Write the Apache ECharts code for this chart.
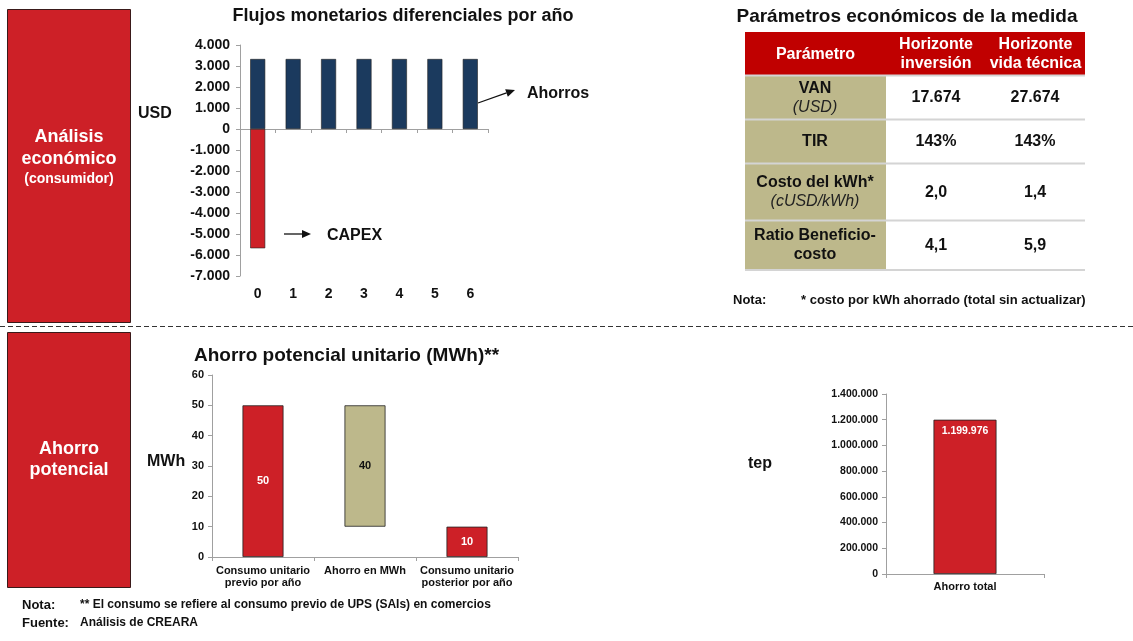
<!DOCTYPE html>
<html>
<head>
<meta charset="utf-8">
<script src="https://cdn.jsdelivr.net/npm/echarts@6/dist/echarts.min.js"></script>
<style>html,body{margin:0;padding:0;background:#fff}#c{width:1133px;height:641px}</style>
</head>
<body>
<div id="c"></div>
<script>
// ---------- data ----------
const years = ['0', '1', '2', '3', '4', '5', '6'];
const ahorros = [3333, 3333, 3333, 3333, 3333, 3333, 3333];
const capex = [-5680, null, null, null, null, null, null];
const usdTicks = { min: -7000, max: 4000, interval: 1000 };

const wfCats = ['Consumo unitario\nprevio por año', 'Ahorro en MWh', 'Consumo unitario\nposterior por año'];
const wfBase = [0, 10, 0];
const wfValues = [50, 40, 10];
const mwhTicks = { min: 0, max: 60, interval: 10 };

const totalCats = ['Ahorro total'];
const totalValues = [1199976];
const tepTicks = { min: 0, max: 1400000, interval: 200000 };

const tableHeaders = ['Parámetro', 'Horizonte\ninversión', 'Horizonte\nvida técnica'];
const tableParams = ['VAN', 'TIR', 'Costo del kWh*', 'Ratio Beneficio-\ncosto'];
const tableUnits = ['(USD)', '', '(cUSD/kWh)', ''];
const tableInversion = ['17.674', '143%', '2,0', '4,1'];
const tableVida = ['27.674', '143%', '1,4', '5,9'];

// ---------- style ----------
const FONT = 'Liberation Sans, Arial, sans-serif';
const RED = '#CD2027';
const NAVY = '#1B3A5E';
const KHAKI = '#BDB88B';
const HEAD = '#C00000';
const AXIS = '#A0A0A0';

function fmt(n) {
  const s = String(Math.abs(Math.round(n))).replace(/\B(?=(\d{3})+(?!\d))/g, '.');
  return (n < 0 ? '-' : '') + s;
}

const chart = echarts.init(document.getElementById('c'), null, { renderer: 'canvas' });

// table graphics
const tableEls = [];
const colX = [745, 886, 986], colW = [141, 100, 99];
const headY = 32, headH = 43;
const rowY = [76, 120, 164, 221], rowH = [44, 44, 57, 49];
tableEls.push({ type: 'rect', shape: { x: 745, y: headY, width: 340, height: headH }, style: { fill: HEAD } });
tableHeaders.forEach((h, i) => {
  tableEls.push({ type: 'text', x: colX[i] + colW[i] / 2, y: headY + headH / 2 + 1,
    style: { text: h, fill: '#fff', font: 'bold 16px ' + FONT, align: 'center', verticalAlign: 'middle', lineHeight: 19 } });
});
tableParams.forEach((p, r) => {
  tableEls.push({ type: 'rect', shape: { x: 745, y: rowY[r], width: 141, height: rowH[r] }, style: { fill: KHAKI } });
  const t = tableUnits[r] ? '{b|' + p + '}\n{i|' + tableUnits[r] + '}' : p.split('\n').map(s => '{b|' + s + '}').join('\n');
  tableEls.push({ type: 'text', x: 815, y: rowY[r] + rowH[r] / 2,
    style: { text: t, align: 'center', verticalAlign: 'middle',
      rich: { b: { font: 'bold 16px ' + FONT, fill: '#111', lineHeight: 19 }, i: { font: 'italic 16px ' + FONT, fill: '#222', lineHeight: 19 } } } });
  tableEls.push({ type: 'text', x: 936, y: rowY[r] + rowH[r] / 2,
    style: { text: tableInversion[r], fill: '#111', font: 'bold 16px ' + FONT, align: 'center', verticalAlign: 'middle' } });
  tableEls.push({ type: 'text', x: 1035, y: rowY[r] + rowH[r] / 2,
    style: { text: tableVida[r], fill: '#111', font: 'bold 16px ' + FONT, align: 'center', verticalAlign: 'middle' } });
});
[75.5, 119.5, 163.5, 220.5, 270].forEach(y => {
  tableEls.push({ type: 'line', shape: { x1: 745, y1: y, x2: 1085, y2: y }, style: { stroke: '#D4D4D4', lineWidth: 2 } });
});

function arrow(x1, y1, x2, y2) {
  const a = Math.atan2(y2 - y1, x2 - x1), L = 9, W = 4;
  const bx = x2 - L * Math.cos(a), by = y2 - L * Math.sin(a);
  return [
    { type: 'line', shape: { x1, y1, x2: bx, y2: by }, style: { stroke: '#111', lineWidth: 1.3 } },
    { type: 'polygon', shape: { points: [[x2, y2], [bx + W * Math.sin(a), by - W * Math.cos(a)], [bx - W * Math.sin(a), by + W * Math.cos(a)]] }, style: { fill: '#111' } }
  ];
}

const txt = (x, y, text, font, opts) => Object.assign({ type: 'text', x, y,
  style: Object.assign({ text, font, fill: '#111', align: 'left', verticalAlign: 'middle' }, opts || {}) });

const graphics = [
  // side boxes
  { type: 'rect', shape: { x: 7.5, y: 9.5, width: 123, height: 313 }, style: { fill: RED, stroke: '#3a1a1a', lineWidth: 1 } },
  { type: 'text', x: 69, y: 157, style: { text: '{a|Análisis}\n{a|económico}\n{s|(consumidor)}', align: 'center', verticalAlign: 'middle',
      rich: { a: { font: 'bold 18px ' + FONT, fill: '#fff', lineHeight: 22 }, s: { font: 'bold 14px ' + FONT, fill: '#fff', lineHeight: 18 } } } },
  { type: 'rect', shape: { x: 7.5, y: 332.5, width: 123, height: 255 }, style: { fill: RED, stroke: '#3a1a1a', lineWidth: 1 } },
  { type: 'text', x: 69, y: 460, style: { text: 'Ahorro\npotencial', font: 'bold 18px ' + FONT, fill: '#fff', align: 'center', verticalAlign: 'middle', lineHeight: 21 } },
  // dashed separator
  { type: 'line', shape: { x1: 0, y1: 326.5, x2: 1133, y2: 326.5 }, style: { stroke: '#333', lineWidth: 1, lineDash: [5, 3] } },
  // axis unit labels
  txt(138, 114, 'USD', 'bold 16px ' + FONT),
  txt(147, 462, 'MWh', 'bold 16px ' + FONT),
  txt(748, 464, 'tep', 'bold 16px ' + FONT),
  // annotations
  ...arrow(478, 103, 515, 90),
  txt(527, 94, 'Ahorros', 'bold 16px ' + FONT),
  ...arrow(284, 234, 311, 234),
  txt(327, 236, 'CAPEX', 'bold 16px ' + FONT),
  // notes
  txt(733, 300, 'Nota:', 'bold 13px ' + FONT),
  txt(801, 300, '* costo por kWh ahorrado (total sin actualizar)', 'bold 13px ' + FONT),
  txt(22, 605, 'Nota:', 'bold 13px ' + FONT),
  txt(80, 605, '** El consumo se refiere al consumo previo de UPS (SAIs) en comercios', 'bold 12px ' + FONT),
  txt(22, 623, 'Fuente:', 'bold 13px ' + FONT),
  txt(80, 623, 'Análisis de CREARA', 'bold 12px ' + FONT),
  ...tableEls
];

const yAxisBase = (extra) => Object.assign({
  type: 'value',
  axisLine: { show: true, lineStyle: { color: AXIS } },
  axisTick: { show: true, length: 4, lineStyle: { color: AXIS } },
  splitLine: { show: false }
}, extra);

const option = {
  animation: false,
  backgroundColor: '#fff',
  title: [
    { text: 'Flujos monetarios diferenciales por año', left: 398, top: 2, textAlign: 'center',
      textStyle: { fontFamily: FONT, fontWeight: 'bold', fontSize: 18, color: '#111' } },
    { text: 'Parámetros económicos de la medida', left: 902, top: 2, textAlign: 'center',
      textStyle: { fontFamily: FONT, fontWeight: 'bold', fontSize: 19, color: '#111' } },
    { text: 'Ahorro potencial unitario (MWh)**', left: 189, top: 341,
      textStyle: { fontFamily: FONT, fontWeight: 'bold', fontSize: 19, color: '#111' } }
  ],
  grid: [
    { left: 240, top: 45, width: 248, height: 231 },
    { left: 212, top: 375, width: 306, height: 182 },
    { left: 886, top: 394, width: 158, height: 180 }
  ],
  xAxis: [
    { type: 'category', gridIndex: 0, data: years,
      axisLine: { onZero: true, lineStyle: { color: AXIS } },
      axisTick: { show: true, length: 4, lineStyle: { color: AXIS } },
      axisLabel: { show: false } },
    { type: 'category', gridIndex: 0, data: years, position: 'bottom',
      axisLine: { show: false, onZero: false }, axisTick: { show: false },
      axisLabel: { color: '#111', fontWeight: 'bold', fontSize: 14, fontFamily: FONT, margin: 11 } },
    { type: 'category', gridIndex: 1, data: wfCats,
      axisLine: { lineStyle: { color: AXIS } },
      axisTick: { show: true, length: 4, lineStyle: { color: AXIS } },
      axisLabel: { color: '#111', fontWeight: 'bold', fontSize: 11, fontFamily: FONT, margin: 8, lineHeight: 12, interval: 0 } },
    { type: 'category', gridIndex: 2, data: totalCats,
      axisLine: { lineStyle: { color: AXIS } },
      axisTick: { show: true, length: 4, lineStyle: { color: AXIS } },
      axisLabel: { color: '#111', fontWeight: 'bold', fontSize: 11, fontFamily: FONT, margin: 7 } }
  ],
  yAxis: [
    yAxisBase({ gridIndex: 0, min: usdTicks.min, max: usdTicks.max, interval: usdTicks.interval,
      axisLabel: { color: '#111', fontWeight: 'bold', fontSize: 14, fontFamily: FONT, margin: 10, formatter: v => fmt(v) } }),
    yAxisBase({ gridIndex: 1, min: mwhTicks.min, max: mwhTicks.max, interval: mwhTicks.interval,
      axisLabel: { color: '#111', fontWeight: 'bold', fontSize: 11, fontFamily: FONT, margin: 8, formatter: v => fmt(v) } }),
    yAxisBase({ gridIndex: 2, min: tepTicks.min, max: tepTicks.max, interval: tepTicks.interval,
      axisLabel: { color: '#111', fontWeight: 'bold', fontSize: 10.5, fontFamily: FONT, margin: 8, formatter: v => fmt(v) } })
  ],
  series: [
    { name: 'Ahorros', type: 'bar', xAxisIndex: 0, yAxisIndex: 0, stack: 'flujo', data: ahorros, barWidth: 15,
      itemStyle: { color: NAVY, borderColor: '#222', borderWidth: 0.6 } },
    { name: 'CAPEX', type: 'bar', xAxisIndex: 0, yAxisIndex: 0, stack: 'flujo', data: capex, barWidth: 15,
      itemStyle: { color: RED, borderColor: '#222', borderWidth: 0.6 } },
    { name: 'base', type: 'bar', xAxisIndex: 2, yAxisIndex: 1, stack: 'wf', data: wfBase, barWidth: 41,
      itemStyle: { color: 'transparent' }, silent: true },
    { name: 'MWh', type: 'bar', xAxisIndex: 2, yAxisIndex: 1, stack: 'wf', barWidth: 41,
      data: wfValues.map((v, i) => ({ value: v, itemStyle: { color: i === 1 ? KHAKI : RED },
        label: { color: i === 1 ? '#111' : '#fff' } })),
      itemStyle: { borderColor: '#222', borderWidth: 0.8 },
      label: { show: true, position: 'inside', fontWeight: 'bold', fontSize: 11, fontFamily: FONT } },
    { name: 'tep', type: 'bar', xAxisIndex: 3, yAxisIndex: 2, data: totalValues, barWidth: 63,
      itemStyle: { color: RED, borderColor: '#222', borderWidth: 0.8 },
      label: { show: true, position: 'insideTop', distance: 6, color: '#fff', fontWeight: 'bold', fontSize: 10.5, fontFamily: FONT,
        formatter: p => fmt(p.value) } }
  ],
  graphic: graphics
};
chart.setOption(option);
</script>
</body>
</html>
